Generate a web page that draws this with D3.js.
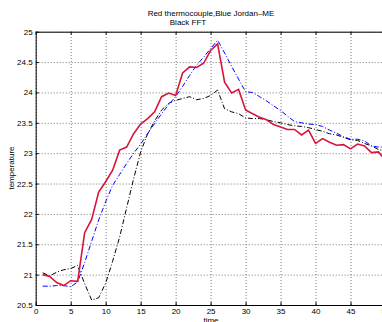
<html>
<head>
<meta charset="utf-8">
<script src="https://d3js.org/d3.v7.min.js"></script>
<style>
  body { margin: 0; background: #fff; }
  text { font-family: "Liberation Sans", Arial, Helvetica, sans-serif; }
</style>
</head>
<body onload='init()'>
<svg width=382 height=322></svg>
<script>
var time = [1,2,3,4,5,6,7,8,9,10,11,12,13,14,15,16,17,18,19,20,21,22,23,24,25,
            26,27,28,29,30,31,32,33,34,35,36,37,38,39,40,41,42,43,44,45,46,47,48,49,50];

// red: thermocouple
var thermocouple = [21.00,20.97,20.87,20.82,20.90,20.89,21.69,21.91,22.36,22.53,
                    22.72,23.05,23.10,23.32,23.48,23.57,23.68,23.93,23.99,23.95,
                    24.32,24.42,24.41,24.48,24.69,24.80,24.17,23.99,24.05,23.71,
                    23.65,23.59,23.55,23.47,23.43,23.39,23.39,23.30,23.38,23.16,
                    23.24,23.18,23.13,23.14,23.07,23.15,23.12,23.01,23.02,22.88];

// blue: Jordan-ME
var jordanME = [20.81,20.81,20.82,20.82,20.80,20.88,21.20,21.55,21.90,22.20,
                22.47,22.65,22.83,23.00,23.15,23.32,23.49,23.65,23.80,23.93,
                24.10,24.28,24.45,24.58,24.72,24.86,24.65,24.43,24.22,24.01,
                24.00,23.93,23.86,23.78,23.70,23.61,23.52,23.50,23.48,23.47,
                23.44,23.38,23.33,23.27,23.23,23.23,23.20,23.12,23.10,23.10];

// black: FFT
var fft = [21.03,20.98,21.04,21.08,21.10,21.15,20.85,20.58,20.62,20.86,
           21.22,21.62,22.10,22.58,23.02,23.32,23.53,23.71,23.82,23.87,
           23.90,23.93,23.88,23.90,23.95,24.04,23.73,23.68,23.65,23.58,
           23.57,23.57,23.55,23.52,23.50,23.47,23.45,23.44,23.42,23.39,
           23.36,23.32,23.30,23.26,23.22,23.21,23.16,23.12,23.06,23.03];

var xTicks = [0,5,10,15,20,25,30,35,40,45,50];
var yTicks = [20.5,21,21.5,22,22.5,23,23.5,24,24.5,25];

function init() {
  var svg = d3.select("svg");
  var left = 35.7, right = 385.5, top = 31.7, bottom = 305;

  var x = d3.scaleLinear().domain([0,50]).range([left,right]);
  var y = d3.scaleLinear().domain([20.5,25]).range([bottom,top]);

  // dotted grid
  svg.append("g")
    .attr("class","grid")
    .attr("transform","translate(0,"+bottom+")")
    .call(d3.axisBottom(x).tickValues(xTicks).tickSize(-(bottom-top)).tickFormat(""));
  svg.append("g")
    .attr("class","grid")
    .attr("transform","translate("+left+",0)")
    .call(d3.axisLeft(y).tickValues(yTicks).tickSize(-(right-left)).tickFormat(""));
  svg.selectAll(".grid .domain").remove();
  svg.selectAll(".grid line")
    .attr("stroke","#777")
    .attr("stroke-dasharray","1,2");

  // lines
  var data = time.map(function(t,i){ return {t:t, r:thermocouple[i], b:jordanME[i], k:fft[i]}; });
  function line(key) {
    return d3.line().x(function(d){ return x(d.t); }).y(function(d){ return y(d[key]); });
  }
  svg.append("path").datum(data).attr("d", line("k"))
    .attr("fill","none").attr("stroke","#000").attr("stroke-width",1)
    .attr("stroke-dasharray","5,2,1,2");
  svg.append("path").datum(data).attr("d", line("b"))
    .attr("fill","none").attr("stroke","#0000ff").attr("stroke-width",1)
    .attr("stroke-dasharray","5,2,1,2");
  svg.append("path").datum(data).attr("d", line("r"))
    .attr("fill","none").attr("stroke","#d8143c").attr("stroke-width",1.6);

  // axes with inward ticks
  var fmt = function(d){ return d; };
  var gx = svg.append("g").attr("transform","translate(0,"+bottom+")")
    .call(d3.axisBottom(x).tickValues(xTicks).tickSizeInner(-3).tickSizeOuter(0).tickPadding(3).tickFormat(fmt));
  var gy = svg.append("g").attr("transform","translate("+left+",0)")
    .call(d3.axisLeft(y).tickValues(yTicks).tickSizeInner(-3).tickSizeOuter(0).tickPadding(3).tickFormat(fmt));
  var gt = svg.append("g").attr("transform","translate(0,"+top+")")
    .call(d3.axisTop(x).tickValues(xTicks).tickSizeInner(-3).tickSizeOuter(0).tickFormat(""));
  var gr = svg.append("g").attr("transform","translate("+right+",0)")
    .call(d3.axisRight(y).tickValues(yTicks).tickSizeInner(-3).tickSizeOuter(0).tickFormat(""));
  [gx,gy,gt,gr].forEach(function(g){
    g.selectAll("text").attr("font-family",null).attr("font-size",8).attr("fill","#000");
    g.selectAll("line").attr("stroke","#000");
    g.select(".domain").attr("stroke","#000");
  });

  // labels
  svg.append("text").attr("x",211).attr("y",16).attr("text-anchor","middle")
    .attr("font-size",8).text("Red thermocouple,Blue Jordan–ME");
  svg.append("text").attr("x",188).attr("y",25).attr("text-anchor","middle")
    .attr("font-size",8).text("Black FFT");
  svg.append("text").attr("x",211).attr("y",323).attr("text-anchor","middle")
    .attr("font-size",8).text("time");
  svg.append("text").attr("transform","translate(14,168) rotate(-90)")
    .attr("text-anchor","middle").attr("font-size",8).text("temperature");
}
</script>
</body>
</html>
